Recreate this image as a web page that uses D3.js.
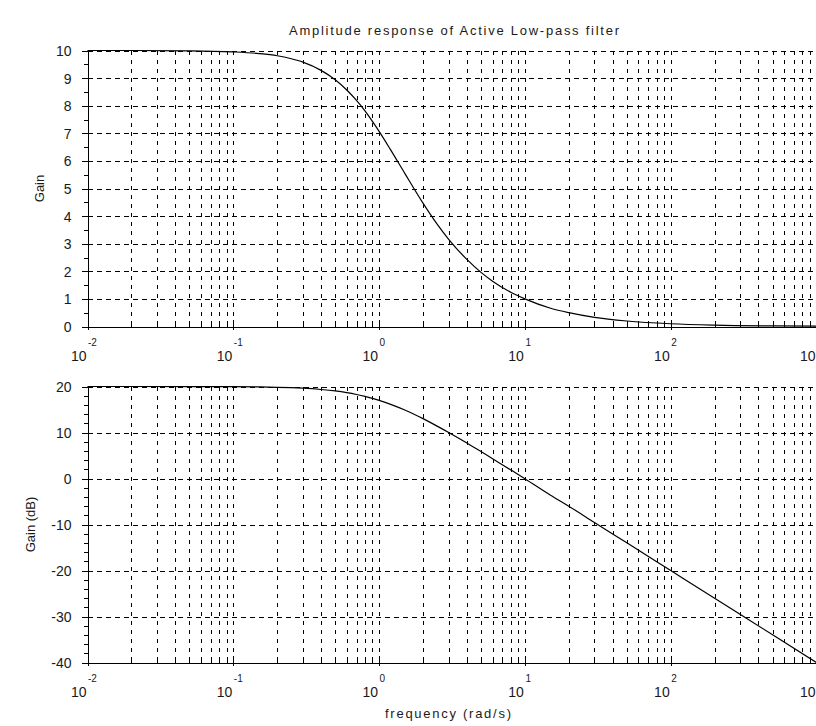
<!DOCTYPE html>
<html><head><meta charset="utf-8">
<script src="https://cdn.jsdelivr.net/npm/d3@7"></script>
<style>
body{margin:0;background:#fff}
text{font-family:"Liberation Sans",Arial,sans-serif;fill:#1a1a1a}
</style>
</head><body>
<svg id="c" width="816" height="726"></svg>
<script>
// ---- data ----
const freq   = [0.01,0.02,0.05,0.1,0.15,0.2,0.25,0.3,0.4,0.5,0.6,0.7,0.8,0.9,1,1.2,1.5,2,2.5,3,4,5,6,8,10,15,20,30,50,100,200,500,1000];
const gain   = [10,10,9.99,9.95,9.89,9.81,9.70,9.58,9.28,8.94,8.57,8.19,7.81,7.43,7.07,6.40,5.55,4.47,3.71,3.16,2.43,1.96,1.64,1.24,1.00,0.66,0.50,0.33,0.20,0.10,0.05,0.02,0.01];
const gainDb = [20,20,19.99,19.96,19.90,19.83,19.74,19.63,19.35,19.03,18.66,18.26,17.85,17.42,16.99,16.12,14.89,13.01,11.39,10.0,7.71,5.85,4.30,1.87,-0.04,-3.64,-6.02,-9.56,-13.98,-20.0,-26.02,-33.98,-40.0];
const gainTicks  = [0,1,2,3,4,5,6,7,8,9,10];
const gainMinor  = [0.5,1.5,2.5,3.5,4.5,5.5,6.5,7.5,8.5,9.5];
const dbTicks    = [-40,-30,-20,-10,0,10,20];
const dbMinor    = [-38,-36,-34,-32,-28,-26,-24,-22,-18,-16,-14,-12,-8,-6,-4,-2,2,4,6,8,12,14,16,18];
const decadeExps = [-2,-1,0,1,2,3];
const mantissas  = [2,3,4,5,6,7,8,9];
const title  = "Amplitude response of Active Low-pass filter";
const xLabel = "frequency (rad/s)";
const yLabelTop = "Gain";
const yLabelBot = "Gain (dB)";

// ---- drawing ----
const svg = d3.select("#c");
const X0 = 87.5, X1 = 816.5;
const x = d3.scaleLog().domain([0.01, 1000]).range([X0, X1]);

const minorX = [];
decadeExps.slice(0, -1).forEach(e => mantissas.forEach(m => minorX.push(m * Math.pow(10, e))));
const majorX = decadeExps.map(e => Math.pow(10, e));

function panel(cfg) {
  const y = d3.scaleLinear().domain(cfg.domain).range(cfg.range);
  const g = svg.append("g");
  const yTop = cfg.range[1], yBot = cfg.range[0];

  // vertical dashed grid
  g.append("g").selectAll("line").data(majorX.slice(1).concat(minorX))
    .join("line")
    .attr("x1", d => Math.round(x(d)) + 0.5).attr("x2", d => Math.round(x(d)) + 0.5)
    .attr("y1", yTop).attr("y2", yBot)
    .attr("stroke", "#000").attr("stroke-width", 1)
    .attr("stroke-dasharray", "4,5").attr("shape-rendering", "crispEdges");

  // horizontal dashed grid
  g.append("g").selectAll("line").data(cfg.ticks.filter(t => t !== cfg.domain[0]))
    .join("line")
    .attr("x1", X0).attr("x2", X1)
    .attr("y1", d => Math.round(y(d)) + 0.5).attr("y2", d => Math.round(y(d)) + 0.5)
    .attr("stroke", "#000").attr("stroke-width", 1)
    .attr("stroke-dasharray", "5,4").attr("shape-rendering", "crispEdges");

  // left axis
  const ya = d3.axisLeft(y).tickValues(cfg.ticks).tickSize(6).tickPadding(10).tickFormat(d => String(d));
  const yg = g.append("g").attr("transform", `translate(${X0},0)`).call(ya);
  yg.select(".domain").attr("stroke", "#000").attr("shape-rendering", "crispEdges");
  yg.selectAll(".tick line").attr("x2", -6).attr("x1", 4).attr("shape-rendering", "crispEdges");
  yg.selectAll(".tick text").attr("font-size", 14).attr("font-family", "Liberation Sans, Arial, sans-serif").attr("fill", "#1a1a1a").attr("dy", "0.36em");
  const ym = d3.axisLeft(y).tickValues(cfg.minor).tickSize(4).tickFormat("");
  const ymg = g.append("g").attr("transform", `translate(${X0},0)`).call(ym);
  ymg.select(".domain").remove();
  ymg.selectAll(".tick line").attr("shape-rendering", "crispEdges");

  // bottom axis: ticks pointing up into the plot
  const xa = d3.axisBottom(x).tickValues(minorX).tickSize(-6).tickFormat("");
  const xg = g.append("g").attr("transform", `translate(0,${yBot})`).call(xa);
  xg.select(".domain").attr("stroke", "#000").attr("shape-rendering", "crispEdges");
  xg.selectAll(".tick line").attr("shape-rendering", "crispEdges");
  const xM = d3.axisBottom(x).tickValues(majorX).tickSize(3).tickFormat("");
  const xMg = g.append("g").attr("transform", `translate(0,${yBot})`).call(xM);
  xMg.select(".domain").remove();
  xMg.selectAll(".tick line").attr("y1", -7).attr("shape-rendering", "crispEdges");

  // decade labels: "10" with superscript exponent (the last one runs off the right edge, as in the reference)
  const lab = g.append("g").selectAll("g").data(decadeExps).join("g")
    .attr("transform", d => `translate(${x(Math.pow(10, d))},${yBot})`);
  lab.append("text").attr("x", -1).attr("y", 34).attr("text-anchor", "end")
    .attr("font-size", 14).text("10");
  lab.append("text").attr("x", 0.5).attr("y", 19).attr("text-anchor", "start")
    .attr("font-size", 10).text(d => String(d));

  // curve
  g.append("path").datum(freq.map((f, i) => [f, cfg.values[i]]))
    .attr("fill", "none").attr("stroke", "#000").attr("stroke-width", 1.2)
    .attr("d", d3.line().x(d => x(d[0])).y(d => y(d[1])).curve(d3.curveMonotoneX));

  // y label
  g.append("text").attr("transform", `translate(${cfg.labelX},${(yTop + yBot) / 2}) rotate(-90)`)
    .attr("text-anchor", "middle").attr("font-size", 13).text(cfg.label);
}

panel({domain: [0, 10], range: [326.5, 50.5], ticks: gainTicks, minor: gainMinor, values: gain, label: yLabelTop, labelX: 44});
panel({domain: [-40, 20], range: [662.5, 386.5], ticks: dbTicks, minor: dbMinor, values: gainDb, label: yLabelBot, labelX: 35});

svg.append("text").attr("x", 454).attr("y", 35).attr("text-anchor", "middle")
  .attr("font-size", 13).attr("textLength", 330).attr("lengthAdjust", "spacing").text(title);
svg.append("text").attr("x", 448).attr("y", 718).attr("text-anchor", "middle")
  .attr("font-size", 13).attr("textLength", 126).attr("lengthAdjust", "spacing").text(xLabel);
</script>
</body></html>
